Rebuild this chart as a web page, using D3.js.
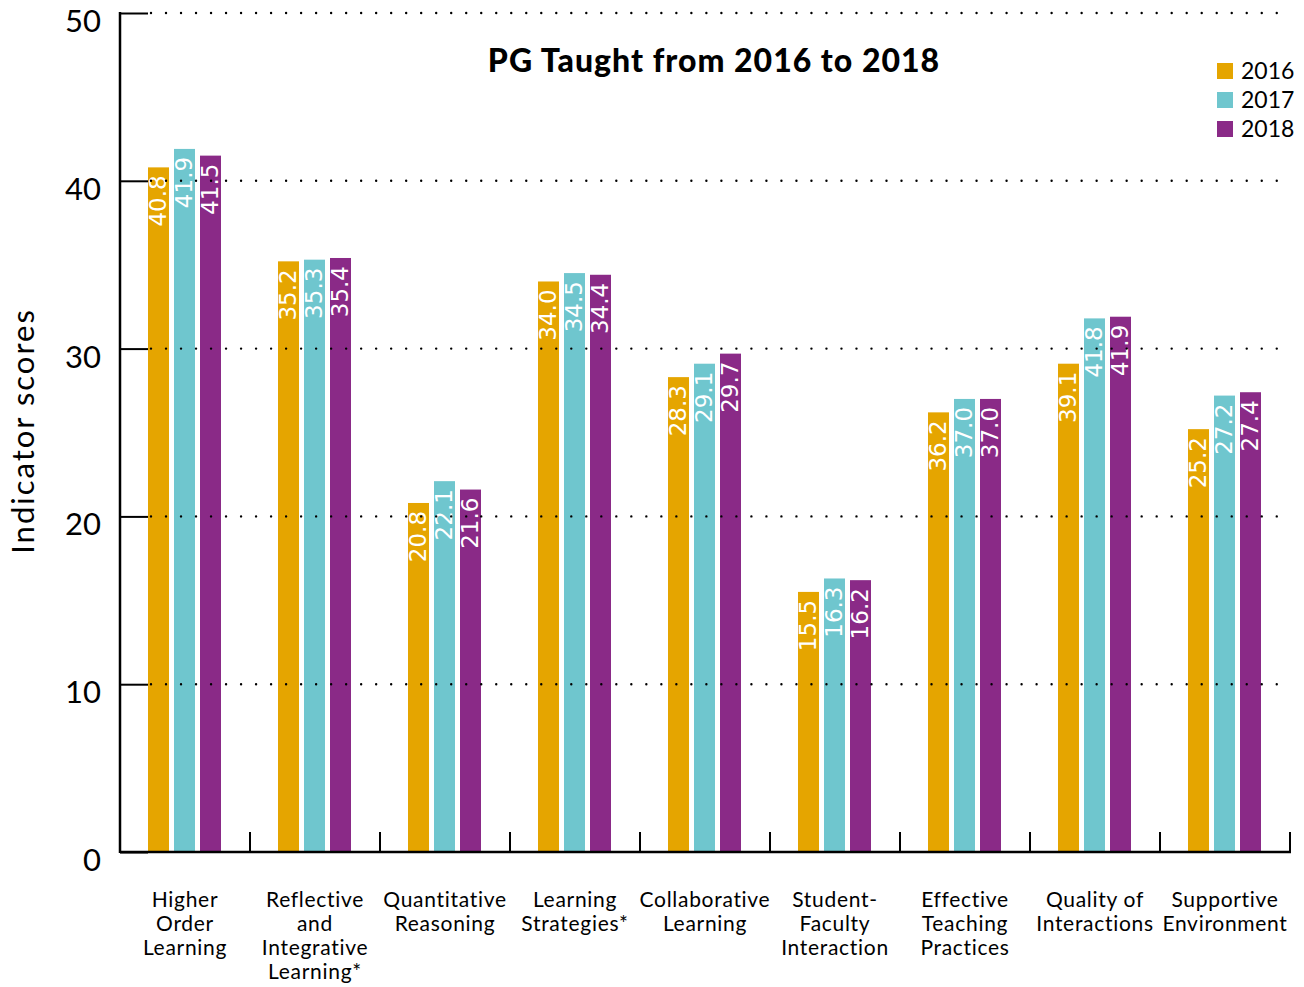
<!DOCTYPE html>
<html>
<head>
<meta charset="utf-8">
<script src="https://cdn.jsdelivr.net/npm/d3@7"></script>
<style>
  html, body { margin: 0; padding: 0; background: #fff; }
  svg { display: block; }
</style>
</head>
<body>
<svg id="chart" width="1304" height="987"></svg>
<script>
const categories = [
  ["Higher", "Order", "Learning"],
  ["Reflective", "and", "Integrative", "Learning*"],
  ["Quantitative", "Reasoning"],
  ["Learning", "Strategies*"],
  ["Collaborative", "Learning"],
  ["Student-", "Faculty", "Interaction"],
  ["Effective", "Teaching", "Practices"],
  ["Quality of", "Interactions"],
  ["Supportive", "Environment"]
];
const years = ["2016", "2017", "2018"];
// bar heights as drawn
const values2016 = [40.8, 35.2, 20.8, 34.0, 28.3, 15.5, 26.2, 29.1, 25.2];
const values2017 = [41.9, 35.3, 22.1, 34.5, 29.1, 16.3, 27.0, 31.8, 27.2];
const values2018 = [41.5, 35.4, 21.6, 34.4, 29.7, 16.2, 27.0, 31.9, 27.4];
// value labels as printed on the bars
const labels2016 = ["40.8", "35.2", "20.8", "34.0", "28.3", "15.5", "36.2", "39.1", "25.2"];
const labels2017 = ["41.9", "35.3", "22.1", "34.5", "29.1", "16.3", "37.0", "41.8", "27.2"];
const labels2018 = ["41.5", "35.4", "21.6", "34.4", "29.7", "16.2", "37.0", "41.9", "27.4"];
const yTicks = [0, 10, 20, 30, 40, 50];
const colors = ["#E5A500", "#6FC6CE", "#8A2A87"];
const title = "PG Taught from 2016 to 2018";
const yLabel = "Indicator scores";

const svg = d3.select("#chart");
const plotLeft = 120, plotRight = 1290, plotTop = 13, plotBottom = 852;
const mainFont = "Lato, 'Open Sans', sans-serif";

const catIdx = categories.map((c, i) => i);
const x0 = d3.scaleBand().domain(catIdx).range([plotLeft, plotRight]).padding(0);
const x1 = d3.scaleBand().domain(years).range([28, 106]).padding(0);
const y = d3.scaleLinear().domain([0, 50]).range([plotBottom, plotTop]);
const barW = x1.bandwidth() - 5;

const seriesVals = [values2016, values2017, values2018];
const seriesLabs = [labels2016, labels2017, labels2018];

// Bars
const groups = svg.append("g").selectAll("g").data(catIdx).join("g")
  .attr("transform", d => `translate(${x0(d)},0)`);
years.forEach((yr, s) => {
  groups.append("rect")
    .attr("x", x1(yr))
    .attr("width", barW)
    .attr("y", d => y(seriesVals[s][d]))
    .attr("height", d => plotBottom - y(seriesVals[s][d]))
    .attr("fill", colors[s]);
  groups.append("text")
    .attr("transform", d => `translate(${x1(yr) + barW - 3},${y(seriesVals[s][d]) + 8}) rotate(-90)`)
    .attr("text-anchor", "end")
    .attr("font-family", "'DejaVu Sans', sans-serif")
    .attr("font-size", 23)
    .attr("fill", "#fff")
    .text(d => seriesLabs[s][d]);
});

// Gridlines (dotted), drawn over bars
svg.append("g").selectAll("line").data(yTicks.filter(d => d > 0)).join("line")
  .attr("x1", plotLeft + 31).attr("x2", plotRight)
  .attr("y1", d => y(d)).attr("y2", d => y(d))
  .attr("stroke", "#000").attr("stroke-width", 2.4)
  .attr("stroke-linecap", "round")
  .attr("stroke-dasharray", "0.01,15");

// Y axis
const yAxis = d3.axisRight(y).tickValues(yTicks).tickSize(28).tickFormat("");
const gy = svg.append("g").attr("transform", `translate(${plotLeft},0)`).call(yAxis);
gy.select(".domain").remove();
gy.selectAll(".tick line").attr("stroke", "#000").attr("stroke-width", 2);
svg.append("line").attr("x1", plotLeft).attr("x2", plotLeft).attr("y1", plotTop - 1).attr("y2", plotBottom + 1)
  .attr("stroke", "#000").attr("stroke-width", 2.5);

// Y tick labels
svg.append("g").selectAll("text").data(yTicks).join("text")
  .attr("x", 101).attr("y", d => y(d) + 19)
  .attr("text-anchor", "end")
  .attr("font-family", mainFont).attr("font-size", 31).attr("fill", "#000")
  .text(d => d);

// X axis
svg.append("line").attr("x1", plotLeft).attr("x2", plotRight + 1).attr("y1", plotBottom).attr("y2", plotBottom)
  .attr("stroke", "#000").attr("stroke-width", 2.5);
svg.append("g").selectAll("line").data(catIdx).join("line")
  .attr("x1", d => x0(d) + x0.bandwidth()).attr("x2", d => x0(d) + x0.bandwidth())
  .attr("y1", plotBottom).attr("y2", plotBottom - 20)
  .attr("stroke", "#000").attr("stroke-width", 2);

// Category labels
const catG = svg.append("g").selectAll("text").data(catIdx).join("text")
  .attr("text-anchor", "middle")
  .attr("font-family", mainFont).attr("font-size", 21).attr("letter-spacing", 0.7).attr("fill", "#000");
catG.selectAll("tspan").data(d => categories[d].map(t => ({t, c: d}))).join("tspan")
  .attr("x", d => x0(d.c) + x0.bandwidth() / 2)
  .attr("y", (d, i) => 907 + i * 24)
  .text(d => d.t);

// Title
svg.append("text").attr("x", 714).attr("y", 72)
  .attr("text-anchor", "middle")
  .attr("font-family", mainFont).attr("font-weight", 900).attr("font-size", 32).attr("letter-spacing", 1)
  .attr("fill", "#000").text(title);

// Legend
const leg = svg.append("g").selectAll("g").data(years).join("g")
  .attr("transform", (d, i) => `translate(1217,${63 + i * 29})`);
leg.append("rect").attr("width", 16).attr("height", 16).attr("fill", (d, i) => colors[i]);
leg.append("text").attr("x", 24).attr("y", 16)
  .attr("font-family", mainFont).attr("font-size", 23).attr("fill", "#000")
  .text(d => d);

// Y axis title
svg.append("text")
  .attr("transform", `translate(34,431) rotate(-90)`)
  .attr("text-anchor", "middle")
  .attr("font-family", mainFont).attr("font-size", 31).attr("letter-spacing", 2).attr("fill", "#000")
  .text(yLabel);
</script>
</body>
</html>
